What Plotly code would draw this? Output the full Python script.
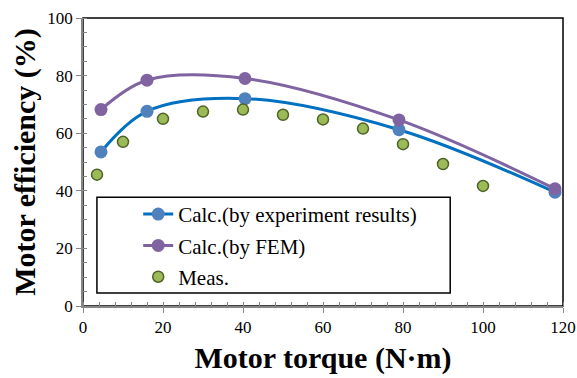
import plotly.graph_objects as go

# Data
calc_exp_x = [4.5, 16, 40.5, 79, 118]
calc_exp_y = [53.5, 67.6, 72.0, 61.2, 39.5]
calc_fem_x = [4.5, 16, 40.5, 79, 118]
calc_fem_y = [68.2, 78.4, 79.0, 64.6, 40.7]
meas_x = [3.5, 10, 20, 30, 40, 50, 60, 70, 80, 90, 100]
meas_y = [45.6, 57.0, 65.0, 67.5, 68.2, 66.4, 64.8, 61.6, 56.2, 49.3, 41.7]

names = ["Calc.(by experiment results)", "Calc.(by FEM)", "Meas."]

FONT = "Times New Roman"

fig = go.Figure()
fig.add_trace(go.Scatter(
    x=calc_exp_x, y=calc_exp_y, name=names[0], mode="lines+markers",
    line=dict(color="#0070C0", width=3, shape="spline", smoothing=1.0),
    marker=dict(color="#4F81BD", size=13), legendgroup="a"))
fig.add_trace(go.Scatter(
    x=calc_fem_x, y=calc_fem_y, name=names[1], mode="lines+markers",
    line=dict(color="#8064A2", width=3, shape="spline", smoothing=1.0),
    marker=dict(color="#8064A2", size=13), legendgroup="b"))
fig.add_trace(go.Scatter(
    x=meas_x, y=meas_y, name=names[2], mode="markers",
    marker=dict(color="#9BBB59", size=11, line=dict(color="#4F6228", width=1.5)),
    legendgroup="c"))

axis_common = dict(
    showgrid=False, zeroline=False, showline=True, linecolor="#868686", linewidth=1.5,
    ticks="outside", ticklen=5, tickwidth=1.2, tickcolor="#868686",
    tickfont=dict(family=FONT, size=17, color="black"),
    minor=dict(ticks="inside", ticklen=4, tickwidth=1, tickcolor="#868686"),
    mirror=False, automargin=False,
)

fig.update_xaxes(range=[0, 120], tick0=0, dtick=20, minor_dtick=4,
                 title=dict(text="<b>Motor torque (N·m)</b>",
                            font=dict(family=FONT, size=30, color="black"), standoff=11),
                 **axis_common)
fig.update_yaxes(range=[0, 100], tick0=0, dtick=20, minor_dtick=5,
                 title=dict(text="<b>Motor efficiency (%)</b>",
                            font=dict(family=FONT, size=30, color="black"), standoff=3),
                 **axis_common)

# plot frame (black top and right)
fig.add_shape(type="rect", xref="paper", yref="paper", x0=0, y0=0, x1=1, y1=1,
              line=dict(color="black", width=1.5), layer="below")
# legend box
fig.add_shape(type="rect", xref="paper", yref="paper", x0=0.029, y0=0.045, x1=0.765, y1=0.378,
              line=dict(color="black", width=1.5), fillcolor="white", layer="above")

fig.update_layout(
    width=577, height=378,
    margin=dict(l=83, r=14, t=18, b=72),
    paper_bgcolor="white", plot_bgcolor="white",
    font=dict(family=FONT, color="black"),
    legend=dict(x=0.115, y=0.389, xanchor="left", yanchor="top",
                font=dict(family=FONT, size=21, color="black"),
                bgcolor="rgba(0,0,0,0)", borderwidth=0,
                tracegroupgap=1),
)

fig.write_html("out.html")
